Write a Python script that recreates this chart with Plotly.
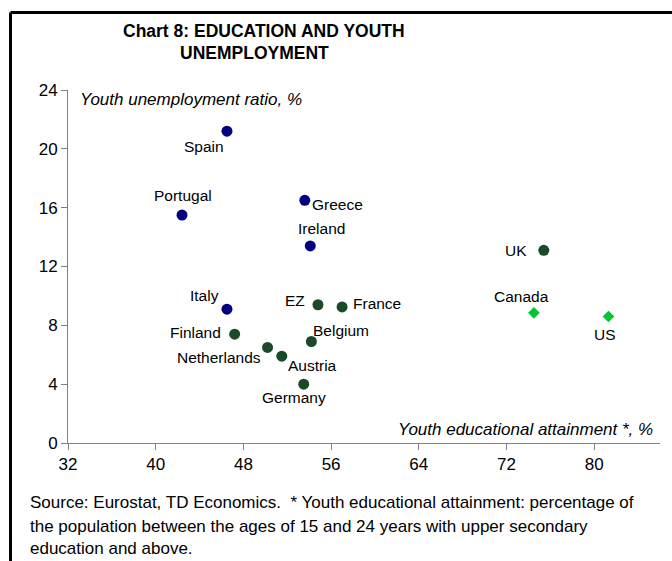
import plotly.graph_objects as go

# ---- data ----
countries = ["Spain", "Portugal", "Greece", "Ireland", "Italy",
             "EZ", "France", "Finland", "Belgium", "Netherlands", "Austria", "Germany", "UK",
             "Canada", "US"]
attainment = [46.5, 42.4, 53.6, 54.1, 46.5,
              54.8, 57.0, 47.2, 54.2, 50.2, 51.5, 53.5, 75.4,
              74.5, 81.3]
unemployment = [21.2, 15.5, 16.5, 13.4, 9.1,
                9.4, 9.25, 7.4, 6.9, 6.5, 5.9, 4.0, 13.1,
                8.85, 8.6]
groups = ["south"] * 5 + ["euro"] * 8 + ["na"] * 2

x_ticks = [32, 40, 48, 56, 64, 72, 80]
y_ticks = [0, 4, 8, 12, 16, 20, 24]

title_lines = ["Chart 8: EDUCATION AND YOUTH", "UNEMPLOYMENT"]
y_title = "Youth unemployment ratio, %"
x_title = "Youth educational attainment *, %"
footer_lines = [
    "Source: Eurostat, TD Economics.  * Youth educational attainment: percentage of",
    "the population between the ages of 15 and 24 years with upper secondary",
    "education and above.",
]

# ---- styles ----
group_style = {
    "south": dict(color="#000080", symbol="circle", size=11),
    "euro": dict(color="#1b4a28", symbol="circle", size=11),
    "na": dict(color="#00c832", symbol="diamond", size=9),
}
# label placement: (xanchor, dx px, dy px downward)
label_pos = {
    "Spain": ("center", -23, 15),
    "Portugal": ("center", 1, -20),
    "Greece": ("left", 5, 4),
    "Ireland": ("center", 11, -17),
    "Italy": ("center", -22, -14),
    "EZ": ("right", -11, -4),
    "France": ("left", 9, -3),
    "Finland": ("right", -12, -2),
    "Belgium": ("left", 0, -11),
    "Netherlands": ("right", -5, 10),
    "Austria": ("left", 4, 9),
    "Germany": ("center", -10, 13),
    "UK": ("right", -15, 0),
    "Canada": ("center", -12, -16),
    "US": ("center", -3, 18),
}

FONT = "Liberation Sans, Arial, sans-serif"
W, H = 672, 561
ML, MR, MT, MB = 68, 12, 90, 118
PW = W - ML - MR
PH = H - MT - MB


def px_to_paper_x(px):
    return (px - ML) / PW


def py_to_paper_y(py):
    return (H - MB - py) / PH


fig = go.Figure()
for g in ["south", "euro", "na"]:
    idx = [i for i, gg in enumerate(groups) if gg == g]
    st = group_style[g]
    fig.add_trace(go.Scatter(
        x=[attainment[i] for i in idx],
        y=[unemployment[i] for i in idx],
        mode="markers",
        marker=dict(color=st["color"], symbol=st["symbol"], size=st["size"],
                    line=dict(width=0)),
        hoverinfo="skip",
        showlegend=False,
    ))

annotations = []
for c, xv, yv in zip(countries, attainment, unemployment):
    anchor, dx, dy = label_pos[c]
    annotations.append(dict(
        x=xv, y=yv, xref="x", yref="y", text=c, showarrow=False,
        xanchor=anchor, yanchor="middle", xshift=dx, yshift=-dy,
        font=dict(family=FONT, size=15.5, color="#000000"),
    ))

# title
for line, cx, cy in zip(title_lines, [264, 254], [31.5, 53.5]):
    annotations.append(dict(
        x=px_to_paper_x(cx), y=py_to_paper_y(cy), xref="paper", yref="paper",
        text="<b>" + line + "</b>", showarrow=False, xanchor="center", yanchor="middle",
        font=dict(family=FONT, size=17.5, color="#000000"),
    ))

# axis titles
annotations.append(dict(
    x=px_to_paper_x(78), y=py_to_paper_y(100), xref="paper", yref="paper",
    text="<i>" + y_title + "</i>", showarrow=False, xanchor="left", yanchor="middle",
    font=dict(family=FONT, size=17, color="#000000"),
))
annotations.append(dict(
    x=px_to_paper_x(655), y=py_to_paper_y(429.5), xref="paper", yref="paper",
    text="<i>" + x_title + "</i>", showarrow=False, xanchor="right", yanchor="middle",
    font=dict(family=FONT, size=17, color="#000000"),
))

# footer
for line, cy in zip(footer_lines, [503, 526, 548]):
    annotations.append(dict(
        x=px_to_paper_x(28), y=py_to_paper_y(cy), xref="paper", yref="paper",
        text=line, showarrow=False, xanchor="left", yanchor="middle",
        font=dict(family=FONT, size=17, color="#000000"),
    ))

# frame (top + left borders)
left_x = px_to_paper_x(10.5)
top_y = py_to_paper_y(12.5)
shapes = [
    dict(type="line", xref="paper", yref="paper", x0=left_x, x1=px_to_paper_x(W + 2),
         y0=top_y, y1=top_y, line=dict(color="#000000", width=3)),
    dict(type="line", xref="paper", yref="paper", x0=left_x, x1=left_x,
         y0=top_y, y1=py_to_paper_y(H + 2), line=dict(color="#000000", width=3)),
]

axis_common = dict(
    showgrid=False, zeroline=False, showline=True, linecolor="#808080", linewidth=1,
    ticks="outside", tickcolor="#808080", ticklen=6, tickwidth=1,
    tickfont=dict(family=FONT, size=17, color="#000000"),
)

fig.update_layout(
    width=W, height=H, autosize=False,
    margin=dict(l=ML, r=MR, t=MT, b=MB, pad=0),
    paper_bgcolor="#ffffff", plot_bgcolor="#ffffff",
    xaxis=dict(range=[32, 86], tickvals=x_ticks, ticktext=[str(v) for v in x_ticks], **axis_common),
    yaxis=dict(range=[0, 24], tickvals=y_ticks, ticktext=[str(v) for v in y_ticks], **axis_common),
    annotations=annotations,
    shapes=shapes,
    showlegend=False,
)

fig.write_html("out.html")
